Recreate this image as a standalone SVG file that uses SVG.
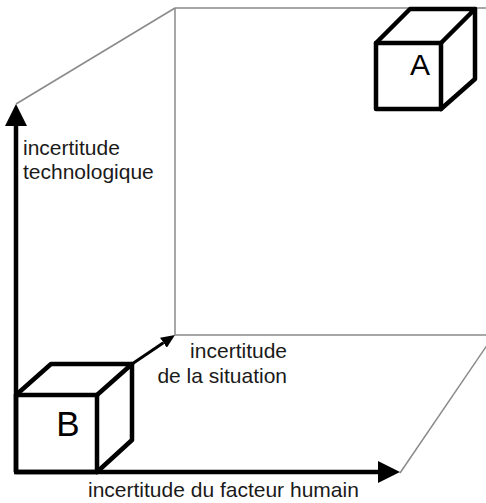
<svg xmlns="http://www.w3.org/2000/svg" width="486" height="503" viewBox="0 0 486 503">
<style>
.frame{fill:none;stroke:#8a8a8a;stroke-width:1.5}
.axis{fill:none;stroke:#000;stroke-width:4.5}
.thin{fill:none;stroke:#000;stroke-width:3}
.box{fill:none;stroke:#000;stroke-width:4.5;stroke-linejoin:round;stroke-linecap:round}
.lbl{font-family:"Liberation Sans",Arial,sans-serif;font-size:21px;fill:#1a1a1a}
.big{font-family:"Liberation Sans",Arial,sans-serif;fill:#000}
</style>
<defs>
<marker id="ah" viewBox="0 -11 22 22" refX="0" refY="0" markerWidth="22" markerHeight="22" markerUnits="userSpaceOnUse" orient="auto">
<path d="M0,-11 L22,0 L0,11 z" fill="#000"/>
</marker>
<marker id="ahs" viewBox="0 -6 14 12" refX="0" refY="0" markerWidth="14" markerHeight="12" markerUnits="userSpaceOnUse" orient="auto">
<path d="M0,-6 L14,0 L0,6 z" fill="#000"/>
</marker>
</defs>
<rect width="486" height="503" fill="#fff"/>
<g id="frame">
<line class="frame" x1="16" y1="104" x2="175" y2="8"/>
<line class="frame" x1="175" y1="8" x2="486" y2="8"/>
<line class="frame" x1="175" y1="8" x2="175" y2="335"/>
<line class="frame" x1="175" y1="335" x2="486" y2="335"/>
<line class="frame" x1="400" y1="473" x2="494" y2="335"/>
</g>
<g id="connectors">
<line class="axis" x1="16" y1="472" x2="16" y2="126" marker-end="url(#ah)"/>
<line class="axis" x1="14" y1="472" x2="378" y2="472" marker-end="url(#ah)"/>
<line class="thin" x1="132" y1="364" x2="163.4" y2="342.8" marker-end="url(#ahs)"/>
</g>
<g id="labels">
<text class="lbl" x="23" y="155">incertitude</text>
<text class="lbl" x="23" y="179">technologique</text>
<text class="lbl" x="287" y="358" text-anchor="end">incertitude</text>
<text class="lbl" x="287" y="383" text-anchor="end">de la situation</text>
<text class="lbl" x="88" y="497">incertitude du facteur humain</text>
</g>
<g id="boxA">
<rect class="box" x="376" y="43" width="65" height="66"/>
<polyline class="box" points="376,43 410,9 475,9 441,43"/>
<polyline class="box" points="475,9 475,79 441,109"/>
<text class="big" x="420" y="75" font-size="30" text-anchor="middle">A</text>
</g>
<g id="boxB">
<rect class="box" x="16" y="395" width="81" height="77"/>
<polyline class="box" points="16,395 51,364 132,364 97,395"/>
<polyline class="box" points="132,364 132,440 97,472"/>
<text class="big" x="68" y="436" font-size="35" text-anchor="middle">B</text>
</g>
</svg>
